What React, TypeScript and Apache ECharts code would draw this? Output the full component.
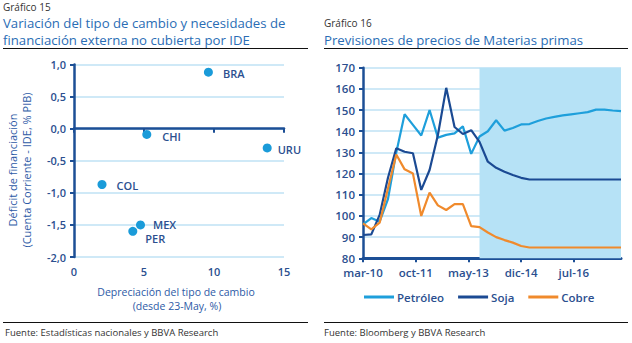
import React, { useEffect, useRef } from "react";
import * as echarts from "echarts";

// ---------- Gráfico 15 data ----------
const countries = ["BRA", "CHI", "URU", "COL", "MEX", "PER"];
const depreciation = [9.6, 5.2, 13.8, 2.0, 4.75, 4.2];
const deficit = [0.88, -0.09, -0.3, -0.87, -1.5, -1.6];
const xTicks15 = [0, 5, 10, 15];
const yTicks15 = [-2, -1.5, -1, -0.5, 0, 0.5, 1];

// ---------- Gráfico 16 data ----------
const monthNames = ["ene", "feb", "mar", "abr", "may", "jun", "jul", "ago", "sep", "oct", "nov", "dic"];
const startYear = 2010;
const startMonth = 2; // mar
const monthCount = 94; // mar-10 .. dic-17
// quarterly observations (every 3rd month starting mar-10)
const petroleo = [96, 99, 97.3, 108, 130, 148, 143, 138, 150, 137, 138.3, 139, 142.3, 129.3, 137.5, 140, 145.2, 140.3, 141.5, 143.2, 143.4, 144.8, 146, 146.8, 147.5, 148, 148.5, 149, 150.2, 150.2, 149.8, 149.5];
const soja = [91, 91.3, 100.5, 118, 132, 130.3, 129.6, 112.3, 121.7, 138.2, 160.5, 142, 138.7, 140.5, 135, 125.6, 122.7, 120.9, 119.3, 118, 117.2, 117.2, 117.2, 117.2, 117.2, 117.2, 117.2, 117.2, 117.2, 117.2, 117.2, 117.2];
const cobre = [96.5, 93.7, 96.8, 113, 129, 122, 120, 100, 111, 105, 102.8, 105.6, 105.6, 95.2, 94.7, 92.2, 90, 88.6, 87.4, 85.8, 85.1, 85.1, 85.1, 85.1, 85.1, 85.1, 85.1, 85.1, 85.1, 85.1, 85.1, 85.1];
const forecastStart = "sep-13";
const seriesNames = ["Petróleo", "Soja", "Cobre"];

const months: string[] = [];
for (let i = 0; i < monthCount; i++) {
  const m = (startMonth + i) % 12;
  const y = startYear + Math.floor((startMonth + i) / 12);
  months.push(monthNames[m] + "-" + String(y).slice(2));
}
const toMonthly = (q: number[]) => months.map((_, i) => (i % 3 === 0 ? q[i / 3] : null));

const labelPlacement: Record<string, [number, number]> = {
  BRA: [10, 1], CHI: [11, 2], URU: [6, 2], COL: [10, 1], MEX: [8, 0], PER: [8, 7],
};

const DARK = "#1c4f96";
const LABEL = "#2b4f8f";
const GRID = "#bfe2f4";
const TITLE = "#2a6db5";
const NAME = "#2d5aa6";
const FONT = "'Open Sans', 'Noto Sans', sans-serif";

export default function App() {
  const ref = useRef<HTMLDivElement>(null);
  useEffect(() => {
    document.body.style.margin = "0";
    const chart = echarts.init(ref.current!, undefined, { renderer: "svg" });
    const axisLabelStyle = { color: LABEL, fontSize: 11, fontFamily: FONT, fontWeight: 600 };
    const titleStyle = { fontSize: 13.2, lineHeight: 15, fill: TITLE, fontFamily: FONT };
    const option: any = {
      animation: false,
      textStyle: { fontFamily: FONT },
      grid: [
        { left: 74, top: 64.5, width: 210, height: 192.5 },
        { left: 363, top: 67.7, width: 258, height: 190.6 },
      ],
      xAxis: [
        {
          gridIndex: 0, type: "value", min: xTicks15[0], max: xTicks15[xTicks15.length - 1], interval: 5,
          position: "bottom",
          axisLine: { show: false, onZero: false }, axisTick: { show: false }, splitLine: { show: false },
          axisLabel: { ...axisLabelStyle, margin: 9 },
        },
        {
          gridIndex: 0, type: "value", min: 0, max: 15, interval: 5, position: "top",
          axisLine: { show: true, onZero: true, lineStyle: { color: DARK, width: 2.5 } },
          axisTick: { show: true, inside: true, length: 4, lineStyle: { color: DARK, width: 2 } },
          axisLabel: { show: false }, splitLine: { show: false },
        },
        {
          gridIndex: 1, type: "category", data: months, boundaryGap: false,
          axisLine: { lineStyle: { color: DARK, width: 3 } },
          axisTick: { show: true, interval: 18, length: 4, lineStyle: { color: DARK, width: 2 } },
          axisLabel: { ...axisLabelStyle, interval: 18, margin: 8, fontSize: 11.5 },
          splitLine: { show: false },
        },
      ],
      yAxis: [
        {
          gridIndex: 0, type: "value", min: yTicks15[0], max: yTicks15[yTicks15.length - 1], interval: 0.5,
          axisLine: { show: true, onZero: false, lineStyle: { color: DARK, width: 2.5 } },
          axisTick: { show: true, length: 4, lineStyle: { color: DARK, width: 2 } },
          axisLabel: { ...axisLabelStyle, margin: 8, formatter: (v: number) => v.toFixed(1).replace(".", ",") },
          splitLine: { show: true, lineStyle: { color: GRID, width: 1.5 } },
        },
        {
          gridIndex: 1, type: "value", min: 80, max: 170, interval: 10,
          axisLine: { show: true, onZero: false, lineStyle: { color: DARK, width: 2.5 } },
          axisTick: { show: true, length: 4, lineStyle: { color: DARK, width: 2 } },
          axisLabel: { ...axisLabelStyle, margin: 8, fontSize: 11.5 },
          splitLine: { show: true, lineStyle: { color: GRID, width: 1.5 } },
        },
      ],
      legend: {
        data: seriesNames.map((n) => ({ name: n, icon: "rect" })),
        left: 359, top: 286,
        itemWidth: 30, itemHeight: 3, itemGap: 14,
        textStyle: { color: LABEL, fontSize: 11.5, fontFamily: FONT, fontWeight: 600, padding: [0, 0, 0, -2] },
      },
      series: [
        {
          type: "scatter", xAxisIndex: 0, yAxisIndex: 0, symbolSize: 9,
          itemStyle: { color: "#1a9bd9", opacity: 1 },
          data: countries.map((c, i) => ({
            name: c, value: [depreciation[i], deficit[i]],
            label: {
              show: true, position: "right", formatter: c,
              distance: labelPlacement[c][0], offset: [0, labelPlacement[c][1]],
              color: LABEL, fontSize: 11, fontFamily: FONT, fontWeight: 600,
            },
          })),
          z: 5,
        },
        {
          name: seriesNames[0], type: "line", xAxisIndex: 2, yAxisIndex: 1,
          data: toMonthly(petroleo), connectNulls: true, symbol: "none",
          lineStyle: { color: "#1e9fdb", width: 2.2 }, itemStyle: { color: "#1e9fdb" },
          markArea: {
            silent: true,
            itemStyle: { color: "#b6e2f6", opacity: 1 },
            data: [[{ xAxis: forecastStart }, { xAxis: months[months.length - 1] }]],
          },
          z: 3,
        },
        {
          name: seriesNames[1], type: "line", xAxisIndex: 2, yAxisIndex: 1,
          data: toMonthly(soja), connectNulls: true, symbol: "none",
          lineStyle: { color: "#1b4a93", width: 2.2 }, itemStyle: { color: "#1b4a93" }, z: 4,
        },
        {
          name: seriesNames[2], type: "line", xAxisIndex: 2, yAxisIndex: 1,
          data: toMonthly(cobre), connectNulls: true, symbol: "none",
          lineStyle: { color: "#f08a2c", width: 2.2 }, itemStyle: { color: "#f08a2c" }, z: 4,
        },
      ],
      graphic: [
        { type: "text", left: 3, top: 2, style: { text: "Gráfico 15", fontSize: 10, fill: "#333", fontFamily: FONT } },
        { type: "text", left: 3, top: 15, style: { text: "Variación del tipo de cambio y necesidades de", ...titleStyle } },
        { type: "text", left: 3, top: 32, style: { text: "financiación externa no cubierta por IDE", ...titleStyle } },
        { type: "line", shape: { x1: 3, y1: 48.5, x2: 308, y2: 48.5 }, style: { stroke: "#111", lineWidth: 1 } },
        { type: "text", left: 324, top: 18, style: { text: "Gráfico 16", fontSize: 10, fill: "#333", fontFamily: FONT } },
        { type: "text", left: 324, top: 32, style: { text: "Previsiones de precios de Materias primas", ...titleStyle } },
        { type: "line", shape: { x1: 324, y1: 48.5, x2: 628, y2: 48.5 }, style: { stroke: "#111", lineWidth: 1 } },
        { type: "text", x: 12, y: 170, rotation: Math.PI / 2, style: { text: "Déficit de financiación", fontSize: 11, fill: NAME, fontFamily: FONT, align: "center", verticalAlign: "middle" } },
        { type: "text", x: 26, y: 170, rotation: Math.PI / 2, style: { text: "(Cuenta Corriente - IDE, % PIB)", fontSize: 11, fill: NAME, fontFamily: FONT, align: "center", verticalAlign: "middle" } },
        { type: "text", x: 176, y: 292, style: { text: "Depreciación del tipo de cambio", fontSize: 10.5, fill: NAME, fontFamily: FONT, align: "center", verticalAlign: "middle" } },
        { type: "text", x: 177, y: 305.5, style: { text: "(desde 23-May, %)", fontSize: 10.5, fill: NAME, fontFamily: FONT, align: "center", verticalAlign: "middle" } },
        { type: "line", shape: { x1: 3, y1: 322.5, x2: 308, y2: 322.5 }, style: { stroke: "#111", lineWidth: 1 } },
        { type: "line", shape: { x1: 324, y1: 322.5, x2: 628, y2: 322.5 }, style: { stroke: "#111", lineWidth: 1 } },
        { type: "text", left: 5, top: 327, style: { text: "Fuente: Estadísticas nacionales y BBVA Research", fontSize: 9.5, fill: "#333", fontFamily: FONT } },
        { type: "text", left: 324, top: 327, style: { text: "Fuente: Bloomberg y BBVA Research", fontSize: 9.5, fill: "#333", fontFamily: FONT } },
      ],
    };
    chart.setOption(option);
    return () => chart.dispose();
  }, []);
  return <div ref={ref} style={{ width: 632, height: 343 }} />;
}
